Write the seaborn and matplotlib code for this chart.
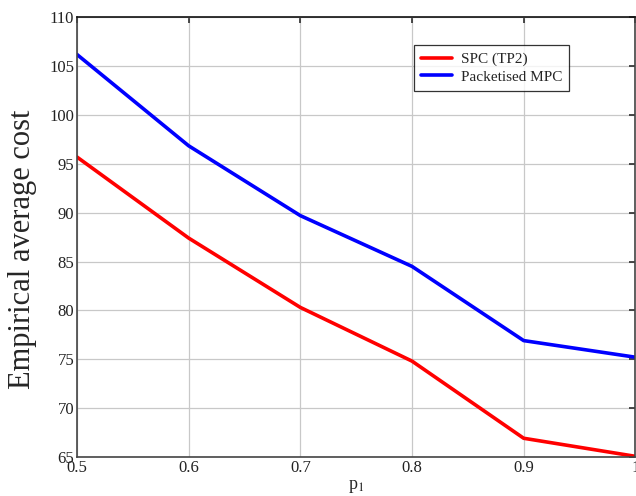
import matplotlib
matplotlib.use("Agg")
import matplotlib.pyplot as plt
import pandas as pd
import seaborn as sns

p1 = [0.5, 0.6, 0.7, 0.8, 0.9, 1.0]
spc_tp2 = [95.7, 87.4, 80.3, 74.8, 66.9, 65.05]
packetised_mpc = [106.2, 96.85, 89.7, 84.5, 76.9, 75.2]

df = pd.DataFrame({
    "p1": p1 + p1,
    "cost": spc_tp2 + packetised_mpc,
    "method": ["SPC (TP2)"] * len(p1) + ["Packetised MPC"] * len(p1),
})

sns.set_theme(style="whitegrid")
plt.rcParams["font.family"] = ["Liberation Serif", "DejaVu Serif"]
plt.rcParams["mathtext.fontset"] = "stix"

fig = plt.figure(figsize=(6.36, 4.96), dpi=100)
ax = fig.add_axes([0.121, 0.079, 0.878, 0.886])

sns.lineplot(data=df, x="p1", y="cost", hue="method",
             palette={"SPC (TP2)": "#ff0000", "Packetised MPC": "#0000ff"},
             linewidth=2.6, ax=ax)

ax.set_xlim(0.5, 1.0)
ax.set_ylim(65, 110)
ax.set_xticks([0.5, 0.6, 0.7, 0.8, 0.9, 1.0])
ax.set_xticklabels(["0.5", "0.6", "0.7", "0.8", "0.9", "1"])
ax.set_yticks(range(65, 111, 5))
ax.grid(True, color="#c8c8c8", linewidth=0.9)
ax.tick_params(direction="in", length=4, labelsize=12, colors="#333333",
               top=True, right=True, pad=2)
ax.tick_params(axis="both", labelcolor="#222222")
for s in ax.spines.values():
    s.set_color("#444444")
    s.set_linewidth(1.2)
ax.spines["top"].set_color("#111111")

ax.set_xlabel("p$_1$", fontsize=13, labelpad=2)
ax.set_ylabel("Empirical average cost", fontsize=22)
ax.yaxis.set_label_coords(-0.072, 0.473)

leg = ax.legend(loc="upper left", bbox_to_anchor=(0.604, 0.936),
                borderaxespad=0, fontsize=11, frameon=True, fancybox=False,
                handlelength=2.0, handletextpad=0.6, borderpad=0.45,
                labelspacing=0.25)
leg.get_frame().set_edgecolor("#000000")
leg.get_frame().set_linewidth(0.9)

fig.savefig("out.png", dpi=100)
